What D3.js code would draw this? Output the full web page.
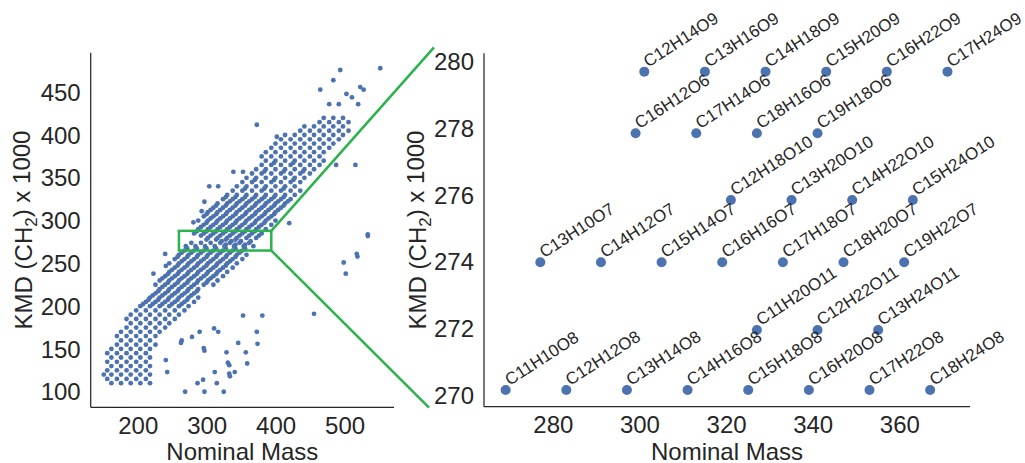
<!DOCTYPE html>
<html><head><meta charset="utf-8">
<script src="https://cdn.jsdelivr.net/npm/d3@7"></script>
<style>
body{margin:0;background:#fff;}
text{font-family:"Liberation Sans", Arial, Helvetica, sans-serif;fill:#262626;}
</style>
</head><body>
<svg id="c" width="1025" height="463"></svg>
<script>
// ---------- DATA ----------
// Main cloud: CH2 homologous rows [KMD x1000, nominal masses]
const bandRows = [
 [110,[161,175,189,203,217]],[115,[155,169,183,197,211]],[120,[161,175,189,203,217]],
 [125,[155,169,183,197,211]],[130,[161,175,189,203,217]],[135,[155,169,183,197,211]],
 [140,[161,175,189,203,217]],[145,[155,169,183,197,211]],[150,[161,175,189,203,217]],
 [155,[169,183,197,211,225]],[160,[175,189,203,217]],[165,[169,183,197,211,225]],
 [170,[175,189,203,217,231]],[175,[183,197,211,225,239]],[180,[189,203,217,231,245]],
 [185,[183,197,211,225,239,253]],[190,[189,203,217,231,245,259]],[195,[197,211,225,239,253,267]],
 [200,[203,217,231,245,259,273]],[205,[211,225,239,253,267,281]],[210,[217,231,245,259,273,287]],
 [215,[225,239,253,267,281]],[220,[231,245,259,273,287]],[225,[225,239,253,267,281,295,309]],
 [230,[231,245,259,273,287,301,315]],[235,[239,253,267,281,295,309,323]],[240,[245,259,273,287,301,315,329]],
 [245,[253,267,281,295,309,323,337]],[250,[245,259,273,287,301,315,329,343]],[255,[253,267,281,295,309,323,337,351]],
 [260,[259,273,287,301,315,329,343,357]],[265,[267,281,295,309,323,337,351]],
 [285,[281,295,309,323,337,351,365,379]],[290,[287,301,315,329,343,357,371,385]],
 [295,[295,309,323,337,351,365,379,393]],[300,[287,301,315,329,343,357,371,385,399]],
 [305,[295,309,323,337,351,365,379,393]],[310,[301,315,329,343,357,371,385,399]],
 [315,[309,323,337,351,365,379,393,407]],[320,[315,329,343,357,371,385,399,413]],
 [325,[323,337,351,365,379,393,407,421]],[330,[329,343,357,371,385,399,413,427]],
 [335,[337,351,365,379,393,407,421,435]],[340,[343,357,371,385,399,413,427]],
 [345,[351,365,379,393,407,421,435]],[350,[357,371,385,399,413,427,441]],
 [355,[365,379,393,407,421,435,449]],[360,[371,385,399,413,427,441,455]],
 [365,[379,393,407,421,435,449,463]],[370,[385,399,413,427,441,455,469]],
 [375,[379,393,407,421,435,449,463]],[380,[385,399,413,427,441,455,469]],
 [385,[393,407,421,435,449,463,477]],[390,[399,413,427,441,455,469,483]],
 [395,[407,421,435,449,463,477,491]],[400,[413,427,441,455,469,483,497]],
 [405,[435,449,463,477,491,505]],[410,[441,455,469,483,497]],
 [415,[463,477,491,505]],[420,[469,483,497]],
 [202.5,[207,221,235,249,263]],[207.5,[215,229,243,257,271]],[212.5,[221,235,249,263,277]],
 [217.5,[229,243,257,271,285]],[222.5,[235,249,263,277]],[227.5,[243,257,271,285,299]],
 [232.5,[235,249,263,277,291,305]],[237.5,[243,257,271,285,299,313]],[242.5,[249,263,277,291,305,319]],
 [247.5,[257,271,285,299,313,327]],[252.5,[263,277,291,305,319,333]],[257.5,[257,271,285,299,313,327,341]],
 [262.5,[263,277,291,305,319,333,347]],[267.5,[271,285,299,313,327,341,355]],
 [282.5,[291,305,319,333,347,361,375]],[287.5,[285,299,313,327,341,355,369]],
 [292.5,[291,305,319,333,347,361,375]],[297.5,[299,313,327,341,355,369,383]],
 [302.5,[305,319,333,347,361,375,389]],[307.5,[299,313,327,341,355,369,383,397]],
 [312.5,[305,319,333,347,361,375,389,403]],[317.5,[313,327,341,355,369,383,397,411]],
 [322.5,[333,347,361,375,389,403,417]],[327.5,[327,341,355,369,383,397,411]],
 [337.5,[355,383,411]],[347.5,[369,397,425]],[357.5,[383,411,439]],[367.5,[397,425]]
];
// Scattered points [nominal mass, KMD x1000]
const sparsePoints = [
 [498,251],[501,238],[517,261],[518,258],[533,284],[533,282],[455,191],[352,189],[380,189],
 [372,170],[373,156],[310,174],[316,170],[289,170],[278,164],[263,160],[262,157],[295,151],
 [296,148],[328,146],[345,157],[356,146],[358,133],[330,134],[332,131],[240,137],[242,123],
 [311,123],[332,121],[333,118],[340,123],[294,114],[286,110],[314,110],[268,100],[296,100],[324,100],
 [296,322],[292,311],[303,340],[316,340],[338,357],[352,357],[372,412],[401,398],[464,453],
 [483,464],[493,476],[551,478],[522,456],[527,453],[502,448],[510,444],[477,436],[491,436],
 [519,436],[487,365],[515,365],[419,297],[150,120],[239,261],[240,247],[222,238],[280,298]
];
// Zoomed region: labelled formulas
const zoomFormula = [
 "C12H14O9","C13H16O9","C14H18O9","C15H20O9","C16H22O9","C17H24O9",
 "C16H12O6","C17H14O6","C18H16O6","C19H18O6",
 "C12H18O10","C13H20O10","C14H22O10","C15H24O10",
 "C13H10O7","C14H12O7","C15H14O7","C16H16O7","C17H18O7","C18H20O7","C19H22O7",
 "C11H20O11","C12H22O11","C13H24O11",
 "C11H10O8","C12H12O8","C13H14O8","C14H16O8","C15H18O8","C16H20O8","C17H22O8","C18H24O8"];
const zoomMass = [301,315,329,343,357,371, 299,313,327,341, 321,335,349,363,
 277,291,305,319,333,347,361, 327,341,355, 269,283,297,311,325,339,353,367];
const zoomKMD = [279.7,279.7,279.7,279.7,279.7,279.7, 277.85,277.85,277.85,277.85,
 275.85,275.85,275.85,275.85, 273.98,273.98,273.98,273.98,273.98,273.98,273.98,
 271.95,271.95,271.95, 270.15,270.15,270.15,270.15,270.15,270.15,270.15,270.15];
// Axis ticks
const leftXTicks = [200,300,400,500];
const leftYTicks = [100,150,200,250,300,350,400,450];
const rightXTicks = [280,300,320,340,360];
const rightYTicks = [270,272,274,276,278,280];
// Highlighted region drawn on the overview
const boxMass = [259,393];
const boxKMD = [265,288];

// ---------- DRAW ----------
const svg = d3.select("#c");
const blue = "#4c72b0", green = "#2bb24c", spine = "#262626";
const fontSize = 24;

const xL = d3.scaleLinear().domain([131,571]).range([90.7,394]);
const yL = d3.scaleLinear().domain([81.8,496.2]).range([407.3,52.7]);
const xR = d3.scaleLinear().domain([264,376.2]).range([484,970]);
const yR = d3.scaleLinear().domain([269.65,280.25]).range([406.7,53.3]);

function axes(x, y, xt, yt) {
  const g = svg.append("g");
  const [x0,x1] = x.range(), [yb,yt0] = y.range();
  g.append("line").attr("x1",x0).attr("x2",x0).attr("y1",yb).attr("y2",yt0)
    .attr("stroke",spine).attr("stroke-width",1.25);
  g.append("line").attr("x1",x0).attr("x2",x1).attr("y1",yb).attr("y2",yb)
    .attr("stroke",spine).attr("stroke-width",1.25);
  g.selectAll(".xt").data(xt).enter().append("text")
    .attr("x",d=>x(d)).attr("y",yb+26.5).attr("text-anchor","middle")
    .style("font-size",fontSize+"px").text(d=>d);
  g.selectAll(".yt").data(yt).enter().append("text")
    .attr("x",x0-10).attr("y",d=>y(d)).attr("dy","0.36em").attr("text-anchor","end")
    .style("font-size",fontSize+"px").text(d=>d);
  g.append("text").attr("x",(x0+x1)/2).attr("y",459.5).attr("text-anchor","middle")
    .style("font-size",fontSize+"px").text("Nominal Mass");
  return g;
}
function yLabel(cx, cy) {
  const t = svg.append("text").attr("transform",`translate(${cx},${cy}) rotate(-90)`)
    .attr("text-anchor","middle").style("font-size",fontSize+"px");
  t.append("tspan").text("KMD (CH");
  t.append("tspan").attr("dy","0.3em").style("font-size","17px").text("2");
  t.append("tspan").attr("dy","-0.3em").text(") x 1000");
}

axes(xL,yL,leftXTicks,leftYTicks);
axes(xR,yR,rightXTicks,rightYTicks);
yLabel(32,230);
yLabel(426,230);

// left scatter
const leftPts = [];
bandRows.forEach(([k,ms]) => ms.forEach(m => leftPts.push([m,k])));
sparsePoints.forEach(p => leftPts.push(p));
zoomMass.forEach((m,i) => leftPts.push([m, zoomKMD[i]]));
svg.append("g").selectAll("circle").data(leftPts).enter().append("circle")
  .attr("cx",d=>xL(d[0])).attr("cy",d=>yL(d[1])).attr("r",2.4).attr("fill",blue);

// green box + connectors
svg.append("rect").attr("x",xL(boxMass[0])).attr("y",yL(boxKMD[1]))
  .attr("width",xL(boxMass[1])-xL(boxMass[0])).attr("height",yL(boxKMD[0])-yL(boxKMD[1]))
  .attr("fill","none").attr("stroke",green).attr("stroke-width",2.5);
svg.append("line").attr("x1",xL(boxMass[1])).attr("y1",yL(boxKMD[1]))
  .attr("x2",xR.range()[0]-50).attr("y2",yR.range()[1]-6)
  .attr("stroke",green).attr("stroke-width",2.5);
svg.append("line").attr("x1",xL(boxMass[1])).attr("y1",yL(boxKMD[0]))
  .attr("x2",xR.range()[0]-55).attr("y2",yR.range()[0]+1)
  .attr("stroke",green).attr("stroke-width",2.5);

// right scatter
const rg = svg.append("g");
const zoomData = zoomFormula.map((f,i)=>({f, m:zoomMass[i], k:zoomKMD[i]}));
rg.selectAll("circle").data(zoomData).enter().append("circle")
  .attr("cx",d=>xR(d.m)).attr("cy",d=>yR(d.k)).attr("r",5).attr("fill",blue);
rg.selectAll("text").data(zoomData).enter().append("text")
  .attr("transform",d=>`translate(${xR(d.m)+4},${yR(d.k)-4}) rotate(-33)`)
  .style("font-size","17px").text(d=>d.f);
</script>
</body></html>
